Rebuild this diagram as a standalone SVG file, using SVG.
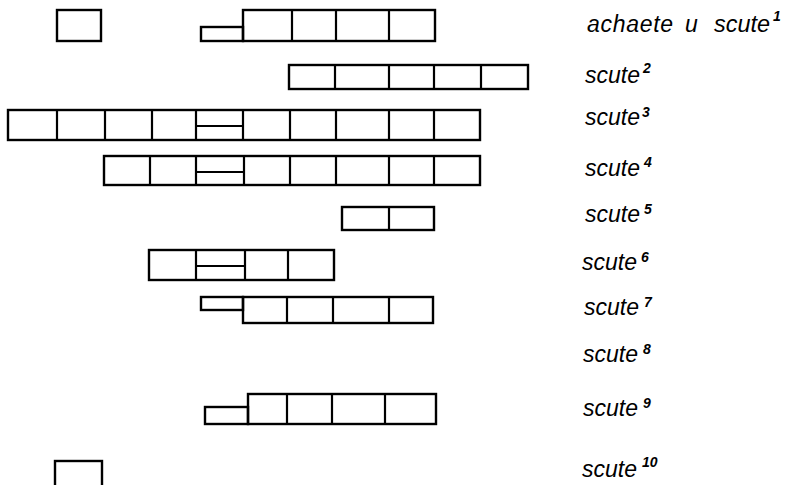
<svg xmlns="http://www.w3.org/2000/svg" width="788" height="485" viewBox="0 0 788 485">
<style>
.b{fill:none;stroke:#000;stroke-width:2.4;stroke-linejoin:miter}
.l{stroke:#000;stroke-width:2.2}
.t{font-family:"Liberation Sans",Arial,sans-serif;font-style:italic;font-size:23px;fill:#000}
.s{font-size:14px;font-weight:bold}
</style>
<rect width="788" height="485" fill="#fff"/>
<g id="row1">
<rect class="b" x="57" y="10" width="44" height="31"/>
<rect class="b" x="201" y="27" width="42" height="14"/>
<rect class="b" x="243" y="10" width="192" height="31"/>
<path class="l" d="M292 10V41M336 10V41M389 10V41"/>
</g>
<g id="row2">
<rect class="b" x="289" y="65" width="239" height="24"/>
<path class="l" d="M335 65V89M389 65V89M434 65V89M481 65V89"/>
</g>
<g id="row3">
<rect class="b" x="8" y="110" width="472" height="30"/>
<path class="l" d="M57 110V140M105 110V140M152 110V140M196 110V140M243 110V140M290 110V140M336 110V140M389 110V140M434 110V140M196 126H243"/>
</g>
<g id="row4">
<rect class="b" x="104" y="156" width="376" height="29"/>
<path class="l" d="M150 156V185M196 156V185M244 156V185M290 156V185M336 156V185M389 156V185M434 156V185M196 172H244"/>
</g>
<g id="row5">
<rect class="b" x="342" y="207" width="92" height="23"/>
<path class="l" d="M389 207V230"/>
</g>
<g id="row6">
<rect class="b" x="149" y="250" width="185" height="30"/>
<path class="l" d="M196 250V280M245 250V280M288 250V280M196 266H245"/>
</g>
<g id="row7">
<rect class="b" x="201" y="297" width="42" height="13"/>
<rect class="b" x="243" y="297" width="190" height="26"/>
<path class="l" d="M287 297V323M333 297V323M389 297V323"/>
</g>
<g id="row9">
<rect class="b" x="205" y="407" width="43" height="17"/>
<rect class="b" x="248" y="394" width="188" height="30"/>
<path class="l" d="M287 394V424M332 394V424M385 394V424"/>
</g>
<g id="row10">
<rect class="b" x="55" y="461" width="47" height="40"/>
</g>
<g id="labels">
<text class="t" y="32"><tspan x="587" textLength="86" lengthAdjust="spacing">achaete</tspan><tspan x="685">u</tspan><tspan x="714" textLength="56" lengthAdjust="spacingAndGlyphs">scute</tspan><tspan class="s" dx="3" dy="-11">1</tspan></text>
<text class="t" x="585" y="83">scute<tspan class="s" dx="3" dy="-10">2</tspan></text>
<text class="t" x="585" y="125">scute<tspan class="s" dx="2" dy="-8">3</tspan></text>
<text class="t" x="585" y="176">scute<tspan class="s" dx="4" dy="-9">4</tspan></text>
<text class="t" x="585" y="222">scute<tspan class="s" dx="4" dy="-8">5</tspan></text>
<text class="t" x="582" y="270">scute<tspan class="s" dx="4" dy="-8">6</tspan></text>
<text class="t" x="584" y="315">scute<tspan class="s" dx="5" dy="-8">7</tspan></text>
<text class="t" x="583" y="362">scute<tspan class="s" dx="5" dy="-8">8</tspan></text>
<text class="t" x="583" y="416">scute<tspan class="s" dx="5" dy="-8">9</tspan></text>
<text class="t" x="582" y="477">scute<tspan class="s" dx="5" dy="-10">10</tspan></text>
</g>
</svg>
